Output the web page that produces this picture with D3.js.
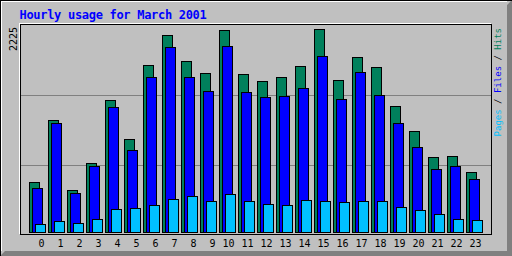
<!DOCTYPE html>
<html>
	<head>
		<meta charset="utf-8">
		<title>Hourly usage for March 2001</title>
		<style>
			body {
			  margin: 0;
			  overflow: hidden;
			  background: #c0c0c0;
			}
			svg {
			  position: absolute;
			  top: 0;
			  left: 0;
			}
			text {
			  font-family: "DejaVu Sans Mono", monospace;
			}
		</style>
		<script src="https://cdn.jsdelivr.net/npm/d3@7/dist/d3.min.js" charset="utf-8"></script>
	</head>
	<body>
		<script>

		// hourly figures
		var hours = d3.range(0, 24);
		var hits  = [545, 1228, 457, 753, 1444, 1019, 1827, 2159, 1871, 1740, 2214, 1729,
		             1652, 1696, 1816, 2225, 1663, 1915, 1805, 1378, 1104, 822, 833, 653];
		var files = [479, 1191, 424, 720, 1367, 896, 1696, 2024, 1696, 1542, 2035, 1531,
		             1476, 1487, 1575, 1926, 1455, 1750, 1498, 1191, 928, 687, 720, 578];
		var pages = [88, 117, 95, 139, 249, 260, 293, 358, 391, 336, 413, 336,
		             304, 293, 347, 338, 334, 336, 335, 271, 238, 195, 139, 128];
		var maxValue = 2225;

		var title = "Hourly usage for March 2001";
		var legend = [
			{label: "Pages", color: "#00c0ff"},
			{label: " / ",   color: "#000000"},
			{label: "Files", color: "#0000ff"},
			{label: " / ",   color: "#000000"},
			{label: "Hits",  color: "#00805c"}
		];

		var w = 512,
			h = 256;

		var svg = d3.select("body").append("svg")
			.attr("width", w)
			.attr("height", h)
			.attr("shape-rendering", "crispEdges");

		// frame + shadow
		svg.append("rect").attr("x", 0).attr("y", 0).attr("width", w).attr("height", h)
			.attr("fill", "#c0c0c0");
		svg.append("polygon").attr("points", "0,256 512,256 512,0 507,5 507,251 5,251")
			.attr("fill", "#808080").attr("shape-rendering", "auto");
		svg.append("path").attr("d", "M0.5,256V0.5H512").attr("fill", "none").attr("stroke", "#000");
		svg.append("path").attr("d", "M1.5,251V1.5H507").attr("fill", "none").attr("stroke", "#fff");

		// title
		svg.append("text")
			.attr("x", 19.5)
			.attr("y", 19)
			.attr("fill", "#0000ff")
			.attr("font-size", "12px")
			.attr("font-weight", "bold")
			.attr("letter-spacing", "-0.3px")
			.text(title);

		// plot box (engraved look)
		svg.append("rect").attr("x", 19.5).attr("y", 23.5).attr("width", 471).attr("height", 210)
			.attr("fill", "none").attr("stroke", "#fff");
		svg.append("rect").attr("x", 20.5).attr("y", 24.5).attr("width", 471).attr("height", 210)
			.attr("fill", "#c0c0c0").attr("stroke", "#000");

		var x = d3.scaleBand().domain(hours).range([29, 29 + 19 * 24]);
		var y = d3.scaleLinear().domain([0, maxValue]).range([232, 29]);
		var grid = d3.scaleLinear().domain([0, 3]).range([235, 25]);

		svg.selectAll("line.grid")
			.data([1, 2])
			.enter().append("line")
			.attr("class", "grid")
			.attr("x1", 21).attr("x2", 491)
			.attr("y1", function(d){ return Math.round(grid(d)) + 0.5; })
			.attr("y2", function(d){ return Math.round(grid(d)) + 0.5; })
			.attr("stroke", "#808080");

		var series = [
			{values: hits,  color: "#00805c", offset: 0},
			{values: files, color: "#0000ff", offset: 3},
			{values: pages, color: "#00c0ff", offset: 6}
		];

		series.forEach(function(s){
			svg.append("g").selectAll("rect")
				.data(hours)
				.enter().append("rect")
				.attr("x", function(d){ return x(d) + s.offset + 0.5; })
				.attr("y", function(d){ return Math.round(y(s.values[d])) + 0.5; })
				.attr("width", 10)
				.attr("height", function(d){ return y(0) - Math.round(y(s.values[d])); })
				.attr("fill", s.color)
				.attr("stroke", "#000");
		});

		// hour labels
		svg.selectAll("text.hour")
			.data(hours)
			.enter().append("text")
			.attr("class", "hour")
			.attr("x", function(d){ return x(d) + (d < 10 ? 12.5 : 9.5); })
			.attr("y", 247)
			.attr("text-anchor", "middle")
			.attr("font-size", "10px")
			.attr("fill", "#000")
			.text(function(d){ return d; });

		// max value, rotated
		svg.append("text")
			.attr("transform", "translate(17,27) rotate(-90)")
			.attr("text-anchor", "end")
			.attr("font-size", "10px")
			.attr("fill", "#000")
			.text(maxValue);

		// right legend
		var leg = svg.append("text")
			.attr("transform", "translate(501,28) rotate(-90)")
			.attr("text-anchor", "end")
			.attr("font-size", "9px")
			.attr("xml:space", "preserve");
		leg.selectAll("tspan")
			.data(legend)
			.enter().append("tspan")
			.attr("fill", function(d){ return d.color; })
			.text(function(d){ return d.label; });

		</script>
	</body>
</html>
